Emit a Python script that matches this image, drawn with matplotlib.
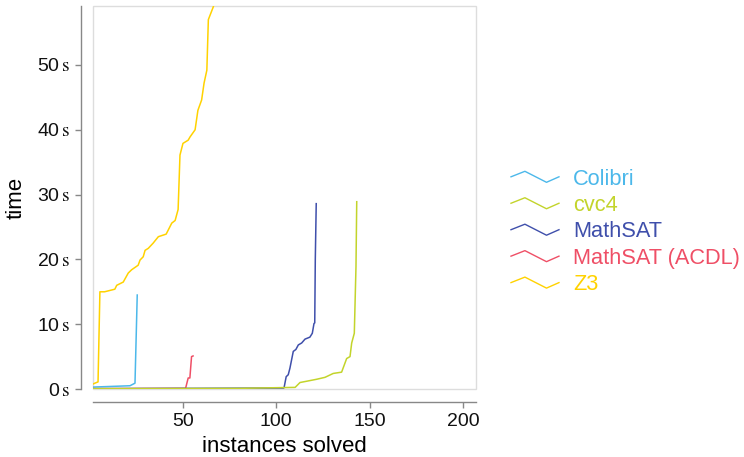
import matplotlib
matplotlib.use('Agg')
import matplotlib.pyplot as plt
from matplotlib.legend_handler import HandlerBase
from matplotlib.lines import Line2D
from matplotlib.patches import Rectangle

plt.rcParams['font.family'] = ['Liberation Sans', 'DejaVu Sans']
plt.rcParams['mathtext.fontset'] = 'stix'

# instances solved (x) vs time in seconds (y)
colibri_x = [2, 21.6, 24.3, 25.5]
colibri_y = [0.3, 0.5, 0.9, 14.5]

cvc4_x = [2, 80, 110.1, 112.7, 116.3, 121.6, 126.1, 130.5, 135, 137.7, 139.5, 140.4, 141.8, 142.7, 143.1]
cvc4_y = [0.05, 0.1, 0.25, 1.0, 1.2, 1.5, 1.8, 2.4, 2.6, 4.7, 5.0, 7.1, 8.6, 18.9, 28.9]

mathsat_x = [2, 104.0, 104.2, 105.3, 106.4, 107.3, 108.2, 109.1, 110.5, 111.8, 113.6, 115.4, 118, 119.3, 120.2, 120.6, 120.9, 121.4]
mathsat_y = [0.05, 0.15, 0.25, 1.9, 2.2, 3.2, 4.5, 5.8, 6.1, 6.8, 7.1, 7.7, 8.0, 8.6, 10.1, 10.2, 20.0, 28.6]

acdl_x = [2, 51.4, 52.8, 53.7, 54.6, 55.4]
acdl_y = [0.05, 0.1, 1.7, 1.7, 5.0, 5.1]

z3_x = [2, 4.5, 5.5, 8, 13.5, 14.5, 18, 20.7, 22.5, 26, 27, 28.7, 29.7, 31.4, 34, 36.8, 41, 44, 45.8,
        47.4, 48.4, 50, 52.8, 53.8, 56.5, 58, 60, 61.3, 62.8, 63.6, 66.3, 68]
z3_y = [0.8, 1.1, 15.0, 15.0, 15.4, 16.0, 16.5, 17.9, 18.4, 19.1, 19.9, 20.4, 21.4, 21.7, 22.5, 23.5, 23.9,
        25.6, 26.0, 27.7, 36.1, 37.9, 38.4, 38.9, 40.0, 43.0, 44.6, 47.2, 49.2, 57.0, 59.0, 62.0]

names = ['Colibri', 'cvc4', 'MathSAT', 'MathSAT (ACDL)', 'Z3']
colors = ['#4cb8ea', '#c3d42b', '#3f4fab', '#ef4f66', '#ffd200']
xs = [colibri_x, cvc4_x, mathsat_x, acdl_x, z3_x]
ys = [colibri_y, cvc4_y, mathsat_y, acdl_y, z3_y]
zorders = [2, 6, 4, 3, 5]

y_ticks = [0, 10, 20, 30, 40, 50]
x_ticks = [50, 100, 150, 200]


class ZigZag(HandlerBase):
    def create_artists(self, legend, orig, xd, yd, w, h, fontsize, trans):
        px = [-xd, -xd + 0.29 * w, -xd + 0.74 * w, -xd + w]
        py = [-yd + 0.5 * h, -yd + 1.0 * h, -yd + 0.0 * h, -yd + 0.5 * h]
        ln = Line2D(px, py, color=orig.get_color(), lw=1.0, transform=trans)
        return [ln]


fig = plt.figure(figsize=(7.44, 4.57), dpi=100)
ax = fig.add_axes([93 / 744, 1 - 389 / 457, 383 / 744, 383 / 457])

handles = []
for x, y, c, n, z in zip(xs, ys, colors, names, zorders):
    l, = ax.plot(x, y, color=c, lw=1.1, label=n, solid_joinstyle='round', zorder=z)
    handles.append(l)

ax.set_xlim(1.8, 207)
ax.set_ylim(0, 59.1)

# light frame round the plot area
ax.add_patch(Rectangle((0, 0), 1, 1, transform=ax.transAxes, fill=False,
                       edgecolor='#dddddd', lw=1.0, clip_on=False, zorder=0))

for s in ['top', 'right']:
    ax.spines[s].set_visible(False)
ax.spines['left'].set_position(('outward', 8.6))
ax.spines['bottom'].set_position(('outward', 9.4))
for s in ['left', 'bottom']:
    ax.spines[s].set_color('#888888')
    ax.spines[s].set_linewidth(1.0)

ax.set_xticks(x_ticks)
ax.set_yticks(y_ticks)
ax.set_yticklabels([f'{v}$\\,\\mathrm{{s}}$' for v in y_ticks])
ax.tick_params(axis='both', direction='out', length=4, width=1.0, color='#888888',
               labelsize=14, labelcolor='#111111', pad=4)

ax.set_xlabel('instances solved', fontsize=16, labelpad=4)
ax.set_ylabel('time', fontsize=16)
ax.yaxis.set_label_coords(-0.172, 0.5)

leg = fig.legend(handles=handles, labels=names, loc='center left',
                 bbox_to_anchor=(511 / 744, 1 - 232 / 457), frameon=False,
                 fontsize=15.7, handlelength=2.2, handleheight=0.4, handletextpad=0.64,
                 labelspacing=0.25, borderpad=0, borderaxespad=0,
                 handler_map={Line2D: ZigZag()})
for t, c in zip(leg.get_texts(), colors):
    t.set_color(c)

fig.savefig('out.png', dpi=100)
